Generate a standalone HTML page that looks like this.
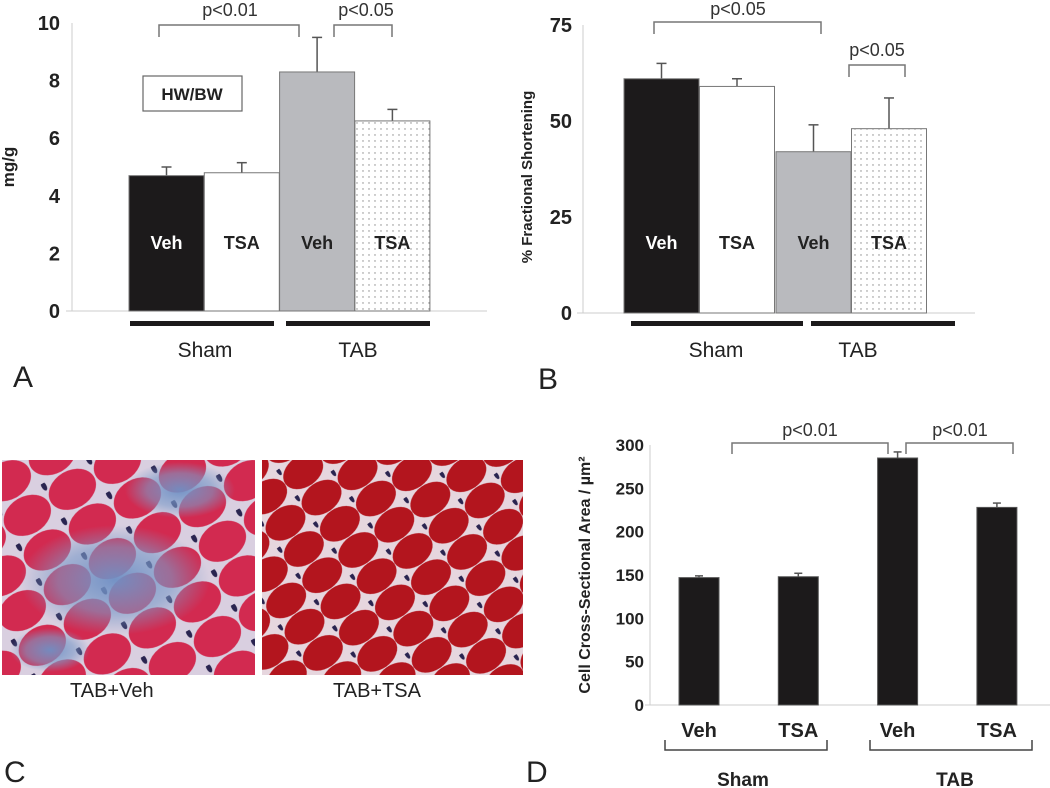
<!DOCTYPE html>
<html><head><meta charset="utf-8"><style>
html,body{margin:0;padding:0;background:#fff;}
svg{display:block;font-family:"Liberation Sans",Arial,sans-serif;}
</style></head><body>
<svg id="fig" width="1050" height="788" viewBox="0 0 1050 788">
<defs>
<pattern id="dots" width="6" height="6" patternUnits="userSpaceOnUse"><rect width="6" height="6" fill="#fff"/><circle cx="3" cy="3" r="0.7" fill="#888"/></pattern>
<radialGradient id="blue1" cx="0.5" cy="0.5" r="0.5"><stop offset="0" stop-color="#6f8fc4" stop-opacity="0.95"/><stop offset="0.6" stop-color="#7a9ac8" stop-opacity="0.6"/><stop offset="1" stop-color="#7a9ac8" stop-opacity="0"/></radialGradient>
<pattern id="cellsL" width="52" height="40" patternUnits="userSpaceOnUse" patternTransform="rotate(-30)">
<rect width="52" height="40" fill="#d9cfe0"/><ellipse cx="26" cy="20" rx="25" ry="19" fill="#d22a50"/><ellipse cx="3" cy="3" rx="2.5" ry="5" fill="#2a2450"/></pattern>
<pattern id="cellsR" width="44" height="32" patternUnits="userSpaceOnUse" patternTransform="rotate(-35)">
<rect width="44" height="32" fill="#e6d6de"/><ellipse cx="22" cy="16" rx="21.8" ry="15.6" fill="#b3151e"/><ellipse cx="2" cy="2" rx="2" ry="4.5" fill="#2a2450"/></pattern>
</defs>
<g id="panelA"></g>
<g id="panelB"></g>
<g id="panelD"></g>
<g>
<rect x="2" y="460" width="253" height="215" fill="url(#cellsL)"/>
<ellipse cx="115" cy="580" rx="95" ry="55" fill="url(#blue1)"/>
<ellipse cx="180" cy="490" rx="55" ry="28" fill="url(#blue1)"/>
<ellipse cx="50" cy="650" rx="40" ry="22" fill="url(#blue1)"/>
<rect x="262" y="460" width="261" height="215" fill="url(#cellsR)"/>
<text x="70" y="697" font-size="20" fill="#222">TAB+Veh</text>
<text x="333" y="697" font-size="20" fill="#222">TAB+TSA</text>
<text x="4" y="782" font-size="30" fill="#222">C</text>
</g>
</svg>
<script>
const NS="http://www.w3.org/2000/svg";
// Panel A data
const aCats=["Veh","TSA","Veh","TSA"];
const aVals=[4.7,4.8,8.3,6.6];
const aErr=[0.3,0.35,1.2,0.4];
const aTicks=[0,2,4,6,8,10];
// Panel B data
const bCats=["Veh","TSA","Veh","TSA"];
const bVals=[61,59,42,48];
const bErr=[4,2,7,8];
const bTicks=[0,25,50,75];
// Panel D data
const dCats=["Veh","TSA","Veh","TSA"];
const dVals=[147,148,285,228];
const dErr=[2,4,7,5];
const dTicks=[0,50,100,150,200,250,300];

function mk(parent,tag,attrs,text){const e=document.createElementNS(NS,tag);for(const k in attrs)e.setAttribute(k,attrs[k]);if(text!==undefined)e.textContent=text;parent.appendChild(e);return e;}

// ---------- Panel A ----------
(function(){
const g=document.getElementById('panelA');
const y=v=>311-v*28.8; const bx=i=>129+i*75.3; const bw=75;
let e;
e=mk(g,'line',{x1:72,y1:y(0),x2:72,y2:y(10),stroke:'#ccc','stroke-width':1});


e=mk(g,'line',{x1:66,y1:y(0),x2:487,y2:y(0),stroke:'#ccc','stroke-width':1});


aTicks.forEach(t=>{
 e=mk(g,'text',{x:60,y:y(t)+7,'font-size':20,'font-weight':'bold','text-anchor':'end',fill:'#222'},String(t));
 
 
});
const fills=['#1c1a1b','#fff','#b9babe','url(#dots)'];
const tcol=['#fff','#222','#222','#222'];
aVals.forEach((v,i)=>{
 const x=bx(i);
 e=mk(g,'line',{x1:x+bw/2,y1:y(v),x2:x+bw/2,y2:y(v+aErr[i]),stroke:'#555','stroke-width':1.5});
 
 
 e=mk(g,'line',{x1:x+bw/2-5,y1:y(v+aErr[i]),x2:x+bw/2+5,y2:y(v+aErr[i]),stroke:'#555','stroke-width':1.5});
 
 
 e=mk(g,'rect',{x:x,y:y(v),width:bw,height:y(0)-y(v),fill:fills[i],stroke:'#777','stroke-width':1});
 
 
 e=mk(g,'text',{x:x+bw/2,y:249,'font-size':18,'font-weight':'bold','text-anchor':'middle',fill:tcol[i]},aCats[i]);
 
 
});
e=mk(g,'text',{x:14,y:167,'font-size':17,'font-weight':'bold','text-anchor':'middle',fill:'#222',transform:'rotate(-90 14 167)'},'mg/g');


e=mk(g,'rect',{x:143,y:76,width:99,height:35,fill:'#fff',stroke:'#666','stroke-width':1.2});


e=mk(g,'text',{x:192,y:100,'font-size':17,'font-weight':'bold','text-anchor':'middle',fill:'#222'},'HW/BW');


e=mk(g,'rect',{x:130,y:321,width:144,height:5,fill:'#1c1a1b'});


e=mk(g,'rect',{x:286,y:321,width:144,height:5,fill:'#1c1a1b'});


e=mk(g,'text',{x:205,y:357,'font-size':21,'text-anchor':'middle',fill:'#222'},'Sham');


e=mk(g,'text',{x:358,y:357,'font-size':21,'text-anchor':'middle',fill:'#222'},'TAB');


e=mk(g,'text',{x:13,y:387,'font-size':30,fill:'#222'},'A');


e=mk(g,'path',{d:'M159 37 V25 H299 V37',fill:'none',stroke:'#777','stroke-width':1.5});


e=mk(g,'text',{x:230,y:16,'font-size':18,'text-anchor':'middle',fill:'#333'},'p<0.01');


e=mk(g,'path',{d:'M334 37 V25 H392 V37',fill:'none',stroke:'#777','stroke-width':1.5});


e=mk(g,'text',{x:366,y:16,'font-size':18,'text-anchor':'middle',fill:'#333'},'p<0.05');


})();

// ---------- Panel B ----------
(function(){
const g=document.getElementById('panelB');
const y=v=>313-v*3.84; const bx=i=>624+i*75.5+(i>=2?1:0); const bw=75;
let e;
e=mk(g,'line',{x1:583,y1:y(0),x2:583,y2:y(75),stroke:'#ccc','stroke-width':1});


e=mk(g,'line',{x1:577,y1:y(0),x2:975,y2:y(0),stroke:'#ccc','stroke-width':1});


bTicks.forEach(t=>{
 e=mk(g,'text',{x:572,y:y(t)+7,'font-size':20,'font-weight':'bold','text-anchor':'end',fill:'#222'},String(t));
 
 
});
const fills=['#1c1a1b','#fff','#b9babe','url(#dots)'];
const tcol=['#fff','#222','#222','#222'];
bVals.forEach((v,i)=>{
 const x=bx(i);
 e=mk(g,'line',{x1:x+bw/2,y1:y(v),x2:x+bw/2,y2:y(v+bErr[i]),stroke:'#555','stroke-width':1.5});
 
 
 e=mk(g,'line',{x1:x+bw/2-5,y1:y(v+bErr[i]),x2:x+bw/2+5,y2:y(v+bErr[i]),stroke:'#555','stroke-width':1.5});
 
 
 e=mk(g,'rect',{x:x,y:y(v),width:bw,height:y(0)-y(v),fill:fills[i],stroke:'#777','stroke-width':1});
 
 
 e=mk(g,'text',{x:x+bw/2,y:249,'font-size':18,'font-weight':'bold','text-anchor':'middle',fill:tcol[i]},bCats[i]);
 
 
});
e=mk(g,'text',{x:532,y:177,'font-size':15,'font-weight':'bold','text-anchor':'middle',fill:'#222',transform:'rotate(-90 532 177)'},'% Fractional Shortening');


e=mk(g,'rect',{x:631,y:321,width:172,height:5,fill:'#1c1a1b'});


e=mk(g,'rect',{x:811,y:321,width:144,height:5,fill:'#1c1a1b'});


e=mk(g,'text',{x:716,y:357,'font-size':21,'text-anchor':'middle',fill:'#222'},'Sham');


e=mk(g,'text',{x:858,y:357,'font-size':21,'text-anchor':'middle',fill:'#222'},'TAB');


e=mk(g,'text',{x:538,y:389,'font-size':30,fill:'#222'},'B');


e=mk(g,'path',{d:'M654 34 V22 H821 V34',fill:'none',stroke:'#777','stroke-width':1.5});


e=mk(g,'text',{x:738,y:15,'font-size':18,'text-anchor':'middle',fill:'#333'},'p<0.05');


e=mk(g,'path',{d:'M849 77 V65 H905 V77',fill:'none',stroke:'#777','stroke-width':1.5});


e=mk(g,'text',{x:877,y:56,'font-size':18,'text-anchor':'middle',fill:'#333'},'p<0.05');


})();

// ---------- Panel D ----------
(function(){
const g=document.getElementById('panelD');
const y=v=>705-v*(260/300); const bx=i=>679+i*99.3; const bw=40;
let e;
e=mk(g,'line',{x1:650,y1:y(0),x2:650,y2:y(300),stroke:'#ccc','stroke-width':1});


e=mk(g,'line',{x1:645,y1:y(0),x2:1050,y2:y(0),stroke:'#ccc','stroke-width':1});


dTicks.forEach(t=>{
 e=mk(g,'text',{x:644,y:y(t)+6,'font-size':17,'font-weight':'bold','text-anchor':'end',fill:'#222'},String(t));
 
 
});
dVals.forEach((v,i)=>{
 const x=bx(i);
 e=mk(g,'line',{x1:x+bw/2,y1:y(v),x2:x+bw/2,y2:y(v+dErr[i]),stroke:'#555','stroke-width':1.5});
 
 
 e=mk(g,'line',{x1:x+bw/2-4,y1:y(v+dErr[i]),x2:x+bw/2+4,y2:y(v+dErr[i]),stroke:'#555','stroke-width':1.5});
 
 
 e=mk(g,'rect',{x:x,y:y(v),width:bw,height:y(0)-y(v),fill:'#1c1a1b',stroke:'#555','stroke-width':1});
 
 
 e=mk(g,'text',{x:x+bw/2,y:737,'font-size':20,'font-weight':'bold','text-anchor':'middle',fill:'#222'},dCats[i]);
 
 
});
e=mk(g,'text',{x:590,y:575,'font-size':16,'font-weight':'bold','text-anchor':'middle',fill:'#222',transform:'rotate(-90 590 575)'},'Cell Cross-Sectional Area / µm²');


e=mk(g,'path',{d:'M665 740 V750 H827 V740',fill:'none',stroke:'#444','stroke-width':1.5});


e=mk(g,'path',{d:'M870 740 V750 H1032 V740',fill:'none',stroke:'#444','stroke-width':1.5});


e=mk(g,'text',{x:743,y:786,'font-size':19,'font-weight':'bold','text-anchor':'middle',fill:'#222'},'Sham');


e=mk(g,'text',{x:955,y:786,'font-size':19,'font-weight':'bold','text-anchor':'middle',fill:'#222'},'TAB');


e=mk(g,'text',{x:526,y:782,'font-size':30,fill:'#222'},'D');


e=mk(g,'path',{d:'M732 454 V443 H888 V454',fill:'none',stroke:'#777','stroke-width':1.5});


e=mk(g,'text',{x:810,y:436,'font-size':18,'text-anchor':'middle',fill:'#333'},'p<0.01');


e=mk(g,'path',{d:'M906 454 V443 H1013 V454',fill:'none',stroke:'#777','stroke-width':1.5});


e=mk(g,'text',{x:960,y:436,'font-size':18,'text-anchor':'middle',fill:'#333'},'p<0.01');


})();
</script>
</body></html>
